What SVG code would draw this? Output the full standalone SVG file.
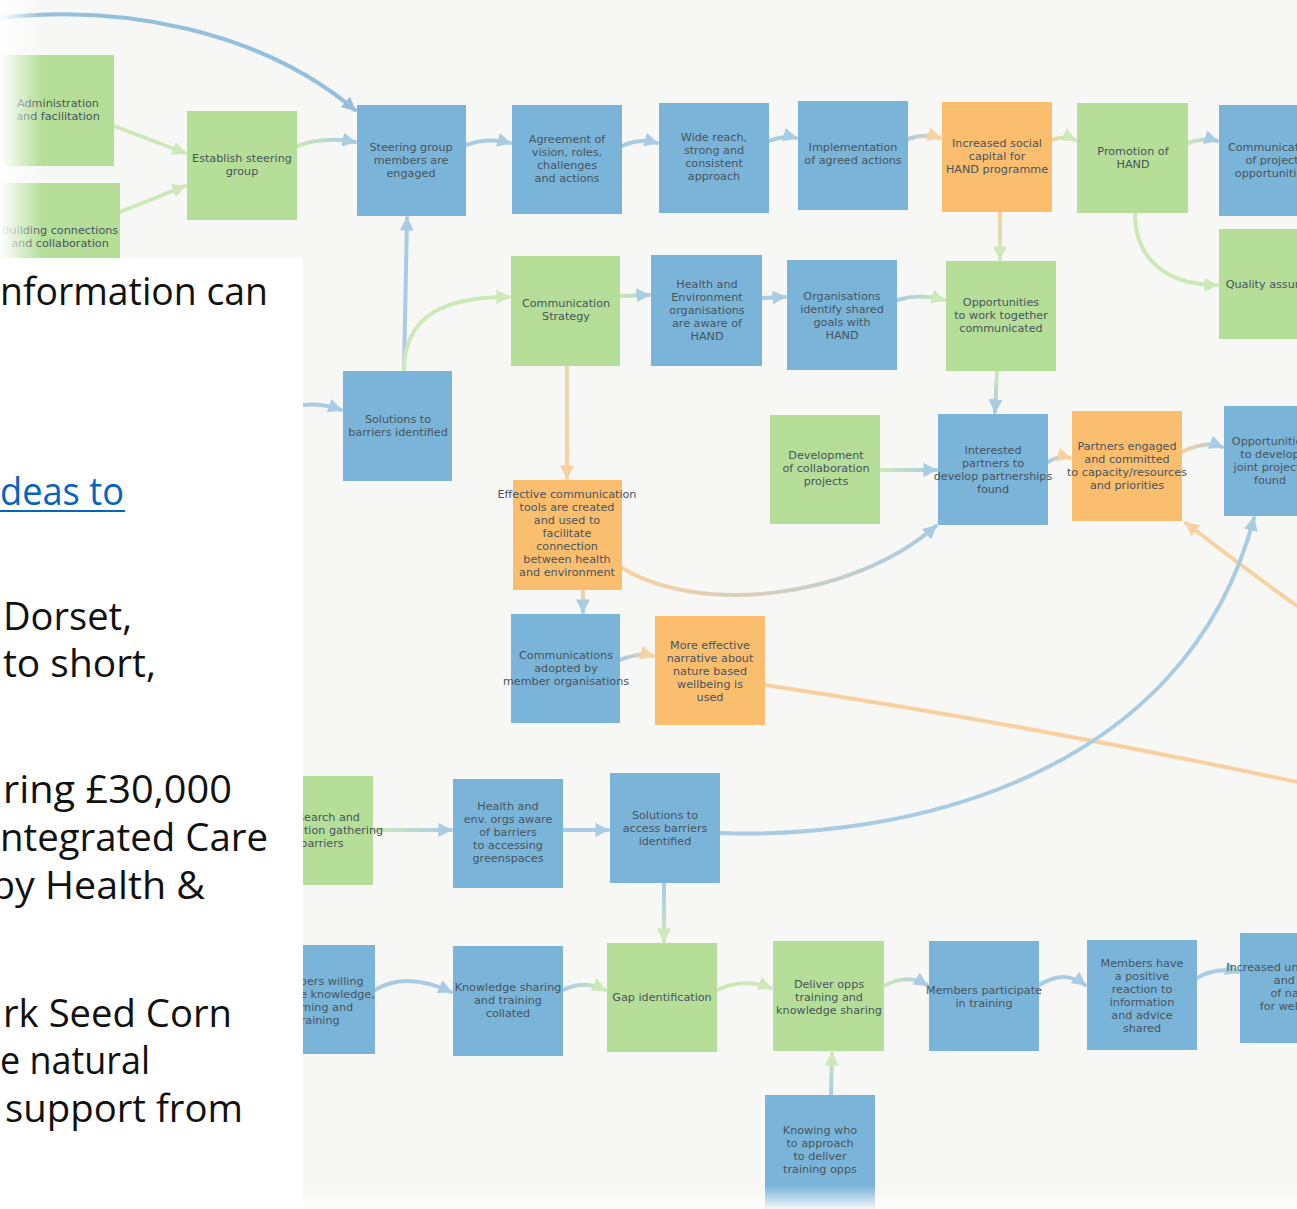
<svg xmlns="http://www.w3.org/2000/svg" width="1297" height="1209" viewBox="0 0 1297 1209">
  <style>
    .blue rect { fill: #7bb4d9; }
    .green rect { fill: #b5df99; }
    .orange rect { fill: #fbbe6f; }
    .node text { font-family: "DejaVu Sans", "Liberation Sans", sans-serif; font-size: 11.2px; fill: #47545c; text-anchor: middle; }
    .c { fill: none; stroke-width: 4; stroke-linecap: round; }
    .cb { stroke: #a9cce3; }
    .cg { stroke: #cde8b9; }
    .co { stroke: #f7d2a0; }
    .body { font-family: "Open Sans", "Liberation Sans", sans-serif; font-size: 38px; fill: #111111; }
  </style>
  <defs>
    <marker id="ab" viewBox="0 0 10 10" refX="9" refY="5" markerWidth="14" markerHeight="14" markerUnits="userSpaceOnUse" orient="auto"><path d="M0,0 L10,5 L0,10 z" fill="#a9cce3"/></marker>
    <marker id="ag" viewBox="0 0 10 10" refX="9" refY="5" markerWidth="14" markerHeight="14" markerUnits="userSpaceOnUse" orient="auto"><path d="M0,0 L10,5 L0,10 z" fill="#cde8b9"/></marker>
    <marker id="ao" viewBox="0 0 10 10" refX="9" refY="5" markerWidth="14" markerHeight="14" markerUnits="userSpaceOnUse" orient="auto"><path d="M0,0 L10,5 L0,10 z" fill="#f7d2a0"/></marker>
    <marker id="abd" viewBox="0 0 10 10" refX="9" refY="5" markerWidth="14" markerHeight="14" markerUnits="userSpaceOnUse" orient="auto"><path d="M0,0 L10,5 L0,10 z" fill="#94bfdd"/></marker>

    <!-- colour blends for links between differently coloured nodes -->
    <linearGradient id="g4" gradientUnits="userSpaceOnUse" x1="297" y1="146" x2="355" y2="142"><stop offset="0" stop-color="#cde8b9"/><stop offset="1" stop-color="#a9cce3"/></linearGradient>
    <linearGradient id="g8" gradientUnits="userSpaceOnUse" x1="908" y1="139" x2="940" y2="138"><stop offset="0" stop-color="#a9cce3"/><stop offset="1" stop-color="#f7d2a0"/></linearGradient>
    <linearGradient id="g9" gradientUnits="userSpaceOnUse" x1="1052" y1="140" x2="1075" y2="140"><stop offset="0" stop-color="#f7d2a0"/><stop offset="1" stop-color="#cde8b9"/></linearGradient>
    <linearGradient id="g10" gradientUnits="userSpaceOnUse" x1="1188" y1="143" x2="1217" y2="141"><stop offset="0" stop-color="#cde8b9"/><stop offset="1" stop-color="#a9cce3"/></linearGradient>
    <linearGradient id="g11" gradientUnits="userSpaceOnUse" x1="1000" y1="212" x2="1000" y2="259"><stop offset="0" stop-color="#f7d2a0"/><stop offset="1" stop-color="#cde8b9"/></linearGradient>
    <linearGradient id="g16" gradientUnits="userSpaceOnUse" x1="620" y1="296" x2="649" y2="295"><stop offset="0" stop-color="#cde8b9"/><stop offset="1" stop-color="#a9cce3"/></linearGradient>
    <linearGradient id="g18" gradientUnits="userSpaceOnUse" x1="897" y1="300" x2="944" y2="300"><stop offset="0" stop-color="#a9cce3"/><stop offset="1" stop-color="#cde8b9"/></linearGradient>
    <linearGradient id="g19" gradientUnits="userSpaceOnUse" x1="997" y1="371" x2="995" y2="412"><stop offset="0" stop-color="#cde8b9"/><stop offset="1" stop-color="#a9cce3"/></linearGradient>
    <linearGradient id="g20" gradientUnits="userSpaceOnUse" x1="567" y1="366" x2="567" y2="478"><stop offset="0" stop-color="#e3ddb0"/><stop offset="1" stop-color="#f7d2a0"/></linearGradient>
    <linearGradient id="g21" gradientUnits="userSpaceOnUse" x1="880" y1="470" x2="936" y2="470"><stop offset="0" stop-color="#cde8b9"/><stop offset="1" stop-color="#a9cce3"/></linearGradient>
    <linearGradient id="g22" gradientUnits="userSpaceOnUse" x1="1048" y1="462" x2="1070" y2="458"><stop offset="0" stop-color="#a9cce3"/><stop offset="1" stop-color="#f7d2a0"/></linearGradient>
    <linearGradient id="g23" gradientUnits="userSpaceOnUse" x1="1182" y1="452" x2="1222" y2="447"><stop offset="0" stop-color="#f7d2a0"/><stop offset="1" stop-color="#a9cce3"/></linearGradient>
    <linearGradient id="g24" gradientUnits="userSpaceOnUse" x1="622" y1="568" x2="936" y2="526"><stop offset="0" stop-color="#f7d2a0"/><stop offset="1" stop-color="#a9cce3"/></linearGradient>
    <linearGradient id="g25" gradientUnits="userSpaceOnUse" x1="583" y1="590" x2="583" y2="612"><stop offset="0" stop-color="#f7d2a0"/><stop offset="1" stop-color="#a9cce3"/></linearGradient>
    <linearGradient id="g26" gradientUnits="userSpaceOnUse" x1="620" y1="660" x2="653" y2="656"><stop offset="0" stop-color="#a9cce3"/><stop offset="1" stop-color="#f7d2a0"/></linearGradient>
    <linearGradient id="g30" gradientUnits="userSpaceOnUse" x1="373" y1="830" x2="451" y2="830"><stop offset="0" stop-color="#cde8b9"/><stop offset="1" stop-color="#a9cce3"/></linearGradient>
    <linearGradient id="g32" gradientUnits="userSpaceOnUse" x1="664" y1="883" x2="664" y2="941"><stop offset="0" stop-color="#a9cce3"/><stop offset="1" stop-color="#cde8b9"/></linearGradient>
    <linearGradient id="g34" gradientUnits="userSpaceOnUse" x1="563" y1="990" x2="605" y2="990"><stop offset="0" stop-color="#a9cce3"/><stop offset="1" stop-color="#cde8b9"/></linearGradient>
    <linearGradient id="g36" gradientUnits="userSpaceOnUse" x1="884" y1="986" x2="927" y2="985"><stop offset="0" stop-color="#cde8b9"/><stop offset="1" stop-color="#a9cce3"/></linearGradient>
    <linearGradient id="g39" gradientUnits="userSpaceOnUse" x1="831" y1="1095" x2="832" y2="1053"><stop offset="0" stop-color="#a9cce3"/><stop offset="1" stop-color="#cde8b9"/></linearGradient>

    <linearGradient id="fadeL" x1="0" y1="0" x2="1" y2="0"><stop offset="0" stop-color="#ffffff" stop-opacity="1"/><stop offset="1" stop-color="#ffffff" stop-opacity="0"/></linearGradient>
    <linearGradient id="fadeB" x1="0" y1="0" x2="0" y2="1"><stop offset="0" stop-color="#ffffff" stop-opacity="0"/><stop offset="1" stop-color="#ffffff" stop-opacity="0.9"/></linearGradient>
  </defs>

  <!-- canvas -->
  <rect x="0" y="0" width="1297" height="1209" fill="#f7f7f5"/>

  <!-- links -->
  <g id="connectors">
    <path class="c" stroke="#94bfdd" d="M0,18 C120,4 260,30 355,110" marker-end="url(#abd)"/>
    <path class="c cg" d="M114,126 L185,153" marker-end="url(#ag)"/>
    <path class="c cg" d="M120,212 L185,186" marker-end="url(#ag)"/>
    <path class="c" stroke="url(#g4)" d="M297,146 Q325,136 355,142" marker-end="url(#ab)"/>
    <path class="c cb" d="M466,145 Q488,137 510,143" marker-end="url(#ab)"/>
    <path class="c cb" d="M622,146 Q640,138 657,143" marker-end="url(#ab)"/>
    <path class="c cb" d="M769,141 Q785,135 796,138" marker-end="url(#ab)"/>
    <path class="c" stroke="url(#g8)" d="M908,139 Q925,133 940,138" marker-end="url(#ao)"/>
    <path class="c" stroke="url(#g9)" d="M1052,140 Q1065,135 1075,140" marker-end="url(#ag)"/>
    <path class="c" stroke="url(#g10)" d="M1188,143 Q1205,137 1217,141" marker-end="url(#ab)"/>
    <path class="c" stroke="url(#g11)" d="M1000,212 L1000,259" marker-end="url(#ag)"/>
    <path class="c cg" d="M1135,213 C1135,262 1170,285 1217,285" marker-end="url(#ag)"/>
    <path class="c cb" d="M404,371 L407,218" marker-end="url(#ab)"/>
    <path class="c cg" d="M404,371 C404,318 440,297 509,297" marker-end="url(#ag)"/>
    <path class="c cb" d="M303,405 Q322,403 341,410" marker-end="url(#ab)"/>
    <path class="c" stroke="url(#g16)" d="M620,296 L649,295" marker-end="url(#ab)"/>
    <path class="c cb" d="M762,298 L785,297" marker-end="url(#ab)"/>
    <path class="c" stroke="url(#g18)" d="M897,300 Q920,293 944,300" marker-end="url(#ag)"/>
    <path class="c" stroke="url(#g19)" d="M997,371 L995,412" marker-end="url(#ab)"/>
    <path class="c" stroke="url(#g20)" d="M567,366 L567,478" marker-end="url(#ao)"/>
    <path class="c" stroke="url(#g21)" d="M880,470 L936,470" marker-end="url(#ab)"/>
    <path class="c" stroke="url(#g22)" d="M1048,462 Q1060,455 1070,458" marker-end="url(#ao)"/>
    <path class="c" stroke="url(#g23)" d="M1182,452 Q1205,440 1222,447" marker-end="url(#ab)"/>
    <path class="c" stroke="url(#g24)" d="M622,568 C700,615 850,600 936,526" marker-end="url(#ab)"/>
    <path class="c" stroke="url(#g25)" d="M583,590 L583,612" marker-end="url(#ab)"/>
    <path class="c" stroke="url(#g26)" d="M620,660 Q638,652 653,656" marker-end="url(#ao)"/>
    <path class="c co" d="M765,685 Q1030,725 1297,782"/>
    <path class="c co" d="M1297,606 Q1240,565 1186,523" marker-end="url(#ao)"/>
    <path class="c cb" d="M720,833 C900,840 1185,780 1254,518" marker-end="url(#ab)"/>
    <path class="c" stroke="url(#g30)" d="M373,830 L451,830" marker-end="url(#ab)"/>
    <path class="c cb" d="M563,830 L608,830" marker-end="url(#ab)"/>
    <path class="c" stroke="url(#g32)" d="M664,883 L664,941" marker-end="url(#ag)"/>
    <path class="c cb" d="M375,990 C398,976 425,980 451,992" marker-end="url(#ab)"/>
    <path class="c" stroke="url(#g34)" d="M563,990 C580,982 592,984 605,990" marker-end="url(#ag)"/>
    <path class="c cg" d="M717,990 C738,980 755,982 771,988" marker-end="url(#ag)"/>
    <path class="c" stroke="url(#g36)" d="M884,986 C900,977 915,978 927,985" marker-end="url(#ab)"/>
    <path class="c cb" d="M1039,985 C1058,974 1072,975 1085,985" marker-end="url(#ab)"/>
    <path class="c cb" d="M1197,978 C1212,969 1228,969 1238,972" marker-end="url(#ab)"/>
    <path class="c" stroke="url(#g39)" d="M831,1095 L832,1053" marker-end="url(#ag)"/>
  </g>

  <!-- nodes -->
  <g id="n-admin" class="node green"><rect x="-10" y="55" width="124" height="111"/><text><tspan x="58" y="107">Administration</tspan><tspan x="58" y="120">and facilitation</tspan></text></g>
  <g id="n-building" class="node green"><rect x="-10" y="183" width="130" height="80"/><text><tspan x="60" y="234">Building connections</tspan><tspan x="60" y="247">and collaboration</tspan></text></g>
  <g id="n-establish" class="node green"><rect x="187" y="111" width="110" height="109"/><text><tspan x="242" y="162">Establish steering</tspan><tspan x="242" y="175">group</tspan></text></g>
  <g id="n-steering" class="node blue"><rect x="357" y="105" width="109" height="111"/><text><tspan x="411" y="151">Steering group</tspan><tspan x="411" y="164">members are</tspan><tspan x="411" y="177">engaged</tspan></text></g>
  <g id="n-agreement" class="node blue"><rect x="512" y="105" width="110" height="109"/><text><tspan x="567" y="143">Agreement of</tspan><tspan x="567" y="156">vision, roles,</tspan><tspan x="567" y="169">challenges</tspan><tspan x="567" y="182">and actions</tspan></text></g>
  <g id="n-widereach" class="node blue"><rect x="659" y="103" width="110" height="110"/><text><tspan x="714" y="141">Wide reach,</tspan><tspan x="714" y="154">strong and</tspan><tspan x="714" y="167">consistent</tspan><tspan x="714" y="180">approach</tspan></text></g>
  <g id="n-implementation" class="node blue"><rect x="798" y="101" width="110" height="109"/><text><tspan x="853" y="151">Implementation</tspan><tspan x="853" y="164">of agreed actions</tspan></text></g>
  <g id="n-socialcapital" class="node orange"><rect x="942" y="102" width="110" height="110"/><text><tspan x="997" y="147">Increased social</tspan><tspan x="997" y="160">capital for</tspan><tspan x="997" y="173">HAND programme</tspan></text></g>
  <g id="n-promotion" class="node green"><rect x="1077" y="103" width="111" height="110"/><text><tspan x="1133" y="155">Promotion of</tspan><tspan x="1133" y="168">HAND</tspan></text></g>
  <g id="n-commproject" class="node blue"><rect x="1219" y="105" width="100" height="111"/><text><tspan x="1272" y="151">Communication</tspan><tspan x="1272" y="164">of project</tspan><tspan x="1272" y="177">opportunities</tspan></text></g>
  <g id="n-quality" class="node green"><rect x="1219" y="229" width="100" height="110"/><text><tspan x="1276" y="288">Quality assurance</tspan></text></g>

  <g id="n-commstrategy" class="node green"><rect x="511" y="256" width="109" height="110"/><text><tspan x="566" y="307">Communication</tspan><tspan x="566" y="320">Strategy</tspan></text></g>
  <g id="n-healthaware" class="node blue"><rect x="651" y="255" width="111" height="111"/><text><tspan x="707" y="288">Health and</tspan><tspan x="707" y="301">Environment</tspan><tspan x="707" y="314">organisations</tspan><tspan x="707" y="327">are aware of</tspan><tspan x="707" y="340">HAND</tspan></text></g>
  <g id="n-sharedgoals" class="node blue"><rect x="787" y="260" width="110" height="110"/><text><tspan x="842" y="300">Organisations</tspan><tspan x="842" y="313">identify shared</tspan><tspan x="842" y="326">goals with</tspan><tspan x="842" y="339">HAND</tspan></text></g>
  <g id="n-worktogether" class="node green"><rect x="946" y="261" width="110" height="110"/><text><tspan x="1001" y="306">Opportunities</tspan><tspan x="1001" y="319">to work together</tspan><tspan x="1001" y="332">communicated</tspan></text></g>
  <g id="n-solbarriers" class="node blue"><rect x="343" y="371" width="109" height="110"/><text><tspan x="398" y="423">Solutions to</tspan><tspan x="398" y="436">barriers identified</tspan></text></g>

  <g id="n-development" class="node green"><rect x="770" y="415" width="110" height="109"/><text><tspan x="826" y="459">Development</tspan><tspan x="826" y="472">of collaboration</tspan><tspan x="826" y="485">projects</tspan></text></g>
  <g id="n-interested" class="node blue"><rect x="938" y="414" width="110" height="111"/><text><tspan x="993" y="454">Interested</tspan><tspan x="993" y="467">partners to</tspan><tspan x="993" y="480">develop partnerships</tspan><tspan x="993" y="493">found</tspan></text></g>
  <g id="n-partners" class="node orange"><rect x="1072" y="411" width="110" height="110"/><text><tspan x="1127" y="450">Partners engaged</tspan><tspan x="1127" y="463">and committed</tspan><tspan x="1127" y="476">to capacity/resources</tspan><tspan x="1127" y="489">and priorities</tspan></text></g>
  <g id="n-jointprojects" class="node blue"><rect x="1224" y="406" width="90" height="110"/><text><tspan x="1270" y="445">Opportunities</tspan><tspan x="1270" y="458">to develop</tspan><tspan x="1270" y="471">joint projects</tspan><tspan x="1270" y="484">found</tspan></text></g>
  <g id="n-tools" class="node orange"><rect x="513" y="480" width="109" height="110"/><text><tspan x="567" y="498">Effective communication</tspan><tspan x="567" y="511">tools are created</tspan><tspan x="567" y="524">and used to</tspan><tspan x="567" y="537">facilitate</tspan><tspan x="567" y="550">connection</tspan><tspan x="567" y="563">between health</tspan><tspan x="567" y="576">and environment</tspan></text></g>

  <g id="n-adopted" class="node blue"><rect x="511" y="614" width="109" height="109"/><text><tspan x="566" y="659">Communications</tspan><tspan x="566" y="672">adopted by</tspan><tspan x="566" y="685">member organisations</tspan></text></g>
  <g id="n-narrative" class="node orange"><rect x="655" y="616" width="110" height="109"/><text><tspan x="710" y="649">More effective</tspan><tspan x="710" y="662">narrative about</tspan><tspan x="710" y="675">nature based</tspan><tspan x="710" y="688">wellbeing is</tspan><tspan x="710" y="701">used</tspan></text></g>

  <g id="n-research" class="node green"><rect x="250" y="776" width="123" height="109"/><text><tspan x="322" y="821">Research and</tspan><tspan x="322" y="834">information gathering</tspan><tspan x="322" y="847">barriers</tspan></text></g>
  <g id="n-awarebarriers" class="node blue"><rect x="453" y="779" width="110" height="109"/><text><tspan x="508" y="810">Health and</tspan><tspan x="508" y="823">env. orgs aware</tspan><tspan x="508" y="836">of barriers</tspan><tspan x="508" y="849">to accessing</tspan><tspan x="508" y="862">greenspaces</tspan></text></g>
  <g id="n-solaccess" class="node blue"><rect x="610" y="773" width="110" height="110"/><text><tspan x="665" y="819">Solutions to</tspan><tspan x="665" y="832">access barriers</tspan><tspan x="665" y="845">identified</tspan></text></g>

  <g id="n-willing" class="node blue"><rect x="250" y="945" width="125" height="109"/><text><tspan x="318" y="985">Members willing</tspan><tspan x="318" y="998">to share knowledge,</tspan><tspan x="318" y="1011">learning and</tspan><tspan x="318" y="1024">training</tspan></text></g>
  <g id="n-collated" class="node blue"><rect x="453" y="946" width="110" height="110"/><text><tspan x="508" y="991">Knowledge sharing</tspan><tspan x="508" y="1004">and training</tspan><tspan x="508" y="1017">collated</tspan></text></g>
  <g id="n-gap" class="node green"><rect x="607" y="943" width="110" height="109"/><text><tspan x="662" y="1001">Gap identification</tspan></text></g>
  <g id="n-deliver" class="node green"><rect x="773" y="941" width="111" height="110"/><text><tspan x="829" y="988">Deliver opps</tspan><tspan x="829" y="1001">training and</tspan><tspan x="829" y="1014">knowledge sharing</tspan></text></g>
  <g id="n-participate" class="node blue"><rect x="929" y="941" width="110" height="110"/><text><tspan x="984" y="994">Members participate</tspan><tspan x="984" y="1007">in training</tspan></text></g>
  <g id="n-reaction" class="node blue"><rect x="1087" y="940" width="110" height="110"/><text><tspan x="1142" y="967">Members have</tspan><tspan x="1142" y="980">a positive</tspan><tspan x="1142" y="993">reaction to</tspan><tspan x="1142" y="1006">information</tspan><tspan x="1142" y="1019">and advice</tspan><tspan x="1142" y="1032">shared</tspan></text></g>
  <g id="n-understanding" class="node blue"><rect x="1240" y="933" width="70" height="110"/><text><tspan x="1296" y="971">Increased understanding</tspan><tspan x="1296" y="984">and use</tspan><tspan x="1296" y="997">of nature</tspan><tspan x="1296" y="1010">for wellbeing</tspan></text></g>
  <g id="n-knowing" class="node blue"><rect x="765" y="1095" width="110" height="114"/><text><tspan x="820" y="1134">Knowing who</tspan><tspan x="820" y="1147">to approach</tspan><tspan x="820" y="1160">to deliver</tspan><tspan x="820" y="1173">training opps</tspan></text></g>

  <!-- soft edges -->
  <rect x="0" y="0" width="42" height="258" fill="url(#fadeL)"/>
  <rect x="303" y="1186" width="994" height="23" fill="url(#fadeB)"/>

  <!-- text panel on the left -->
  <g id="panel">
    <rect x="0" y="258" width="303" height="951" fill="#ffffff"/>
    <text class="body" x="0" y="305" textLength="268" lengthAdjust="spacingAndGlyphs">nformation can</text>
    <text class="body" x="0" y="505" textLength="124" lengthAdjust="spacingAndGlyphs" style="fill:#0563c1">deas to</text>
    <rect x="0" y="510" width="125" height="2" fill="#0563c1"/>
    <text class="body" x="3" y="630" textLength="129" lengthAdjust="spacingAndGlyphs">Dorset,</text>
    <text class="body" x="3" y="677" textLength="153" lengthAdjust="spacingAndGlyphs">to short,</text>
    <text class="body" x="3" y="803" textLength="229" lengthAdjust="spacingAndGlyphs">ring £30,000</text>
    <text class="body" x="0" y="851" textLength="268" lengthAdjust="spacingAndGlyphs">ntegrated Care</text>
    <text class="body" x="-9" y="899" textLength="214" lengthAdjust="spacingAndGlyphs">by Health &amp;</text>
    <text class="body" x="3" y="1027" textLength="229" lengthAdjust="spacingAndGlyphs">rk Seed Corn</text>
    <text class="body" x="0" y="1074" textLength="150" lengthAdjust="spacingAndGlyphs">e natural</text>
    <text class="body" x="5" y="1122" textLength="238" lengthAdjust="spacingAndGlyphs">support from</text>
  </g>
</svg>
